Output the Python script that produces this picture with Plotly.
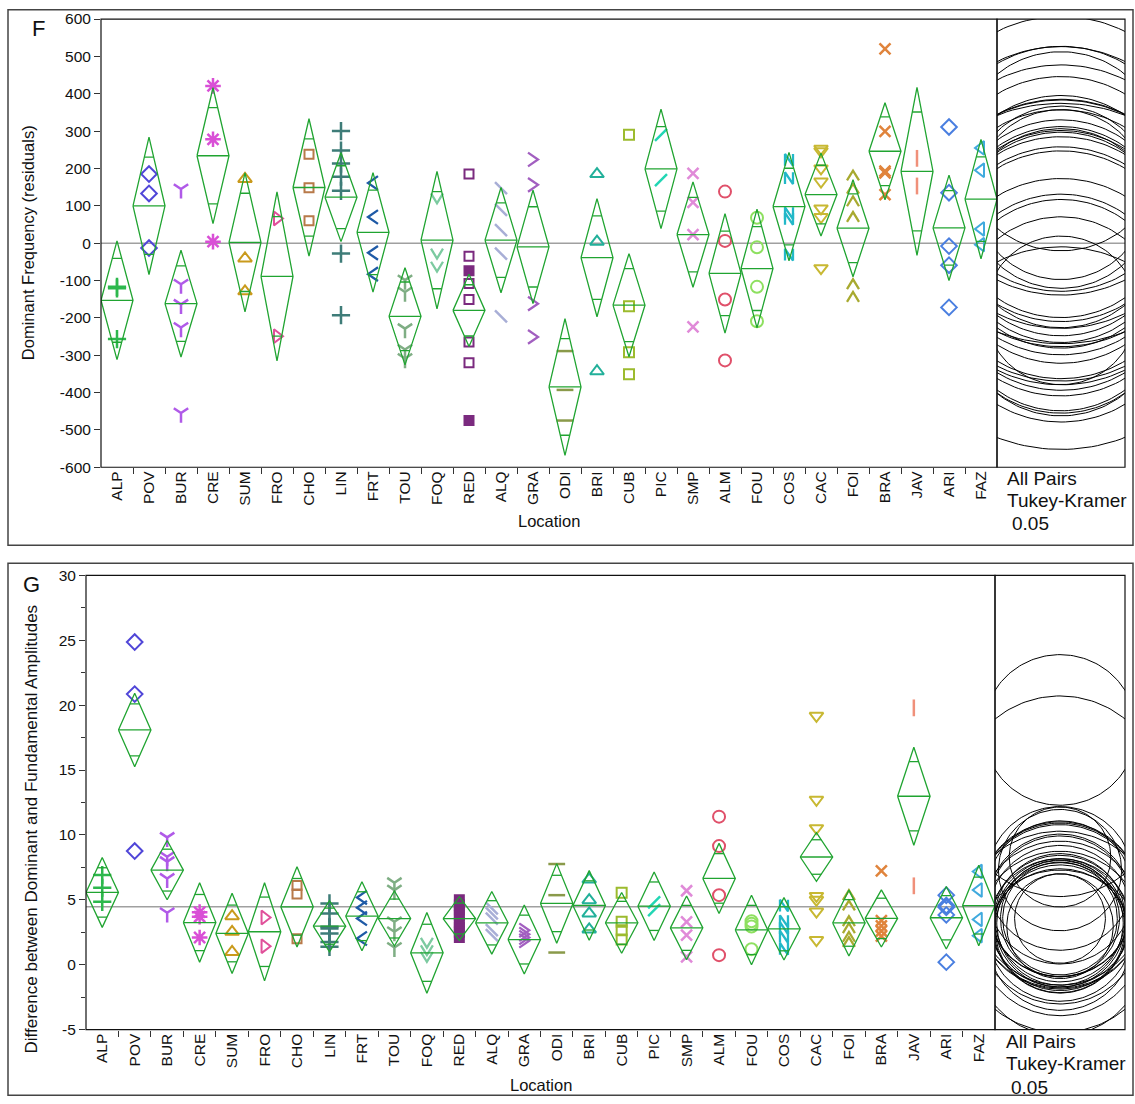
import numpy as np
import plotly.graph_objects as go

W, H = 1135, 1104

locations = ["ALP", "POV", "BUR", "CRE", "SUM", "FRO", "CHO", "LIN", "FRT", "TOU",
             "FOQ", "RED", "ALQ", "GRA", "ODI", "BRI", "CUB", "PIC", "SMP", "ALM",
             "FOU", "COS", "CAC", "FOI", "BRA", "JAV", "ARI", "FAZ"]

# marker per location ("glyph:" entries are drawn as small line glyphs)
marker_symbols = ["cross-thin-open", "diamond-open", "y-down-open", "asterisk-open",
                  "triangle-up-open", "triangle-right-open", "square-open", "cross-thin-open",
                  "glyph:chev-left", "y-down-open", "glyph:chev-down", "square-open",
                  "line-nw-open", "glyph:chev-right", "line-ew-open", "triangle-up-open",
                  "square-open", "line-ne-open", "x-thin-open", "circle-open", "circle-open",
                  "glyph:letter-n", "triangle-down-open", "glyph:chev-up", "x-thin-open",
                  "line-ns-open", "diamond-open", "triangle-left-open"]

marker_colors = ["#2db84d", "#5046d8", "#b05ae8", "#d94fd6", "#c99a1c", "#e0509a", "#b87a4a",
                 "#3e7c78", "#1f5aa6", "#7fae84", "#7ccaa0", "#7b2a7f", "#a8aed6", "#a25fc0",
                 "#8a9a4a", "#22b09a", "#9cbb2e", "#22d6b4", "#e08ad8", "#e0506a", "#8ee060",
                 "#22b8c8", "#c8b832", "#a8aa30", "#e0843c", "#f0907a", "#4a7fe0", "#40aade"]

# ---- Panel F: dominant frequency residuals ----
f_means = [-153, 100, -162, 234, 2, -89, 149, 123, 29, -196, 8, -180, 8, -10, -385, -39,
           -166, 199, 23, -81, -68, 98, 130, 40, 246, 192, 41, 118]
f_ci = [159, 184, 143, 182, 186, 226, 184, 119, 160, 130, 184, 97, 141, 152, 183, 158,
        138, 160, 141, 160, 159, 145, 111, 130, 130, 225, 141, 160]
f_values = [
    [-117, -121, -257],
    [185, 133, -13],
    [145, -110, -164, -226, -455],
    [421, 278, 4],
    [172, -41, -129],
    [66, -249],
    [238, 148, 60],
    [300, 248, 213, 178, 140, -28, -193],
    [161, 70, -26, -83],
    [-99, -131, -229, -285, -309],
    [120, -28, -63],
    [185, -35, -74, -108, -151, -265, -320, -475],
    [147, 89, 35, -28, -196],
    [224, 156, -162, -251],
    [-289, -393, -475],
    [185, 4, -343],
    [290, -169, -292, -351],
    [290, 169],
    [187, 109, 23, -224],
    [138, 6, -151, -314],
    [68, -11, -117, -209],
    [223, 174, 80, 65, -31],
    [253, 246, 200, 165, 93, 70, -67],
    [181, 146, 112, 70, -110, -144],
    [520, 299, 193, 188, 130],
    [227, 153],
    [311, 135, -8, -59, -172],
    [255, 195, 38, -4],
]
f_red_filled = [False, False, True, False, False, False, False, True]
f_grand = 0.0
f_yticks = list(range(-600, 601, 100))

# ---- Panel G: dominant minus fundamental amplitude ----
g_means = [5.57, 18.09, 7.29, 3.25, 2.41, 2.54, 4.46, 2.97, 3.74, 3.56, 0.92, 3.56, 3.23,
           1.94, 4.72, 4.57, 3.23, 4.51, 2.84, 6.65, 2.68, 2.77, 8.30, 3.22, 3.57, 12.98,
           3.62, 4.56]
g_ci = [2.69, 2.83, 2.28, 3.06, 3.09, 3.78, 3.09, 1.97, 2.66, 2.12, 3.11, 1.68, 2.41, 2.66,
        3.07, 2.68, 2.34, 2.64, 2.45, 2.70, 2.68, 2.40, 1.88, 2.54, 2.20, 3.77, 2.41, 3.10]
g_values = [
    [6.91, 5.93, 4.85],
    [24.86, 20.85, 8.76],
    [9.81, 8.32, 7.94, 6.65, 4.0],
    [4.05, 3.7, 2.1],
    [3.74, 2.54, 0.99],
    [3.64, 1.43],
    [6.1, 5.45, 2.0],
    [4.72, 3.95, 2.92, 2.8, 2.41, 1.76, 1.38],
    [5.18, 4.39, 3.56, 2.02],
    [6.32, 5.75, 3.31, 2.54, 1.33],
    [1.69, 1.12, 0.6],
    [5.0, 4.6, 4.2, 3.8, 3.3, 2.9, 2.5, 2.1],
    [4.34, 3.95, 3.56, 2.66, 2.28],
    [2.66, 2.35, 2.1, 1.85],
    [7.76, 5.36, 0.94],
    [6.57, 4.97, 3.95, 2.72],
    [5.54, 3.31, 2.66, 1.94],
    [4.8, 4.2],
    [5.7, 3.31, 2.28, 0.61],
    [11.41, 9.14, 5.36, 0.74],
    [3.35, 3.15, 2.95, 1.2],
    [4.56, 3.35, 2.82, 2.15, 1.22],
    [19.18, 12.71, 10.52, 5.3, 5.0, 4.1, 1.9],
    [5.36, 4.56, 3.35, 2.82, 2.15, 1.75],
    [7.23, 3.4, 3.0, 2.6, 2.2],
    [19.79, 6.08],
    [5.36, 4.56, 4.43, 3.84, 0.2],
    [7.18, 5.76, 3.49, 2.24],
]
g_red_filled = [True] * 8
g_grand = 4.47
g_yticks = list(range(-5, 31, 5))
g_yminor = [v + 2.5 for v in range(-5, 30, 5)]

CIRCLE_FACTOR = 2.05     # Tukey-Kramer circle radius relative to the diamond half-height
DIAMOND_GREEN = "#20a431"
FONT = "Liberation Sans, Arial, sans-serif"

# glyph outlines in pixel offsets (x right, y up)
GLYPHS = {
    "chev-left": [(5, 7), (-5, 0), (5, -7)],
    "chev-right": [(-5, 7), (5, 0), (-5, -7)],
    "chev-down": [(-6, 5), (0, -5), (6, 5)],
    "chev-up": [(-6, -5), (0, 5), (6, -5)],
    "letter-n": [(-4, -6), (-4, 6), (4, -6), (4, 6)],
}

# marker size / outline width by symbol family
MARKER_SIZE = {"square-open": 10, "cross-thin-open": 13, "asterisk-open": 13,
               "x-thin-open": 11, "y-down-open": 12, "line-nw-open": 12,
               "line-ne-open": 12, "line-ew-open": 12, "line-ns-open": 12}
THICK = ("cross-thin-open", "x-thin-open", "line-nw-open", "line-ne-open",
         "line-ew-open", "line-ns-open", "asterisk-open", "y-down-open")

# page geometry in pixels (x from left, y from top)
F_MAIN = (101, 997)
F_CIRC = (997, 1125)
F_Y = (10.2, 465.4)
F_BOX = (8, 0.8, 1133, 544.7)
G_MAIN = (86, 995)
G_CIRC = (995, 1125)
G_Y = (575.2, 1036.6)
G_BOX = (8, 563, 1133, 1103.3)


def px(x):
    return x / W


def py(y):
    return 1 - y / H


def add_panel(fig, values, means, ci, grand, red_filled, xa, ya, xc, circle_half,
              x_ppu, y_ppu):
    n = len(locations)
    # overall mean reference line (main area and circle area)
    fig.add_trace(go.Scatter(x=[-0.5, n - 0.5], y=[grand, grand], mode="lines",
                             line=dict(color="#a0a0a0", width=1.5), xaxis=xa, yaxis=ya,
                             hoverinfo="skip", showlegend=False))
    fig.add_trace(go.Scatter(x=[-circle_half, circle_half], y=[grand, grand], mode="lines",
                             line=dict(color="#a0a0a0", width=1.5), xaxis=xc, yaxis=ya,
                             hoverinfo="skip", showlegend=False))
    # individual observations
    for i, loc in enumerate(locations):
        vals = values[i]
        sym = marker_symbols[i]
        col = marker_colors[i]
        if sym.startswith("glyph:"):
            outline = GLYPHS[sym[6:]]
            gx, gy = [], []
            for v in vals:
                gx += [i + ox / x_ppu for ox, oy in outline] + [None]
                gy += [v + oy / y_ppu for ox, oy in outline] + [None]
            fig.add_trace(go.Scatter(x=gx, y=gy, mode="lines",
                                     line=dict(color=col, width=2.3),
                                     xaxis=xa, yaxis=ya, hoverinfo="skip", showlegend=False))
            continue
        size = MARKER_SIZE.get(sym, 12)
        lw = 2.5 if sym in THICK else 2
        syms = sym
        if loc == "RED":
            syms = ["square" if f else "square-open" for f in red_filled]
            size = 9
        elif loc == "CHO":
            size = 9
        fig.add_trace(go.Scatter(
            x=[i] * len(vals), y=vals, mode="markers",
            marker=dict(symbol=syms, size=size, color=col, line=dict(color=col, width=lw)),
            xaxis=xa, yaxis=ya, hoverinfo="skip", showlegend=False, cliponaxis=False))
    # means diamonds with overlap marks
    dx, dy = [], []
    half = 0.5
    hw = half * (1 - 1 / np.sqrt(2))
    for i in range(n):
        m, c = means[i], ci[i]
        dx += [i - half, i, i + half, i, i - half, None]
        dy += [m, m + c, m, m - c, m, None]
        dx += [i - half, i + half, None]
        dy += [m, m, None]
        h = c / np.sqrt(2)
        dx += [i - hw, i + hw, None, i - hw, i + hw, None]
        dy += [m + h, m + h, None, m - h, m - h, None]
    fig.add_trace(go.Scatter(x=dx, y=dy, mode="lines",
                             line=dict(color=DIAMOND_GREEN, width=1.3),
                             xaxis=xa, yaxis=ya, hoverinfo="skip", showlegend=False))
    # comparison circles
    t = np.linspace(0, 2 * np.pi, 181)
    cx, cy = [], []
    for i in range(n):
        r = CIRCLE_FACTOR * ci[i]
        cx += list(r * np.cos(t)) + [None]
        cy += list(means[i] + r * np.sin(t)) + [None]
    fig.add_trace(go.Scatter(x=cx, y=cy, mode="lines", line=dict(color="black", width=1),
                             xaxis=xc, yaxis=ya, hoverinfo="skip", showlegend=False))


fig = go.Figure()

f_yppu = (F_Y[1] - F_Y[0]) / 1200.0
g_yppu = (G_Y[1] - G_Y[0]) / 35.0
f_xppu = (F_MAIN[1] - F_MAIN[0]) / len(locations)
g_xppu = (G_MAIN[1] - G_MAIN[0]) / len(locations)
f_half = ((F_CIRC[1] - F_CIRC[0]) / 2) / f_yppu
g_half = ((G_CIRC[1] - G_CIRC[0]) / 2) / g_yppu

add_panel(fig, f_values, f_means, f_ci, f_grand, f_red_filled, "x", "y", "x2", f_half,
          f_xppu, f_yppu)
add_panel(fig, g_values, g_means, g_ci, g_grand, g_red_filled, "x3", "y2", "x4", g_half,
          g_xppu, g_yppu)

tickfont = dict(family=FONT, size=15.5, color="#111")
boundaries = [i + 0.5 for i in range(len(locations) - 1)]

main_x = dict(range=[-0.5, len(locations) - 0.5], tickmode="array",
              tickvals=list(range(len(locations))), ticktext=locations, tickangle=-90,
              ticks="", showgrid=False, zeroline=False, showline=False, tickfont=tickfont,
              minor=dict(tickmode="array", tickvals=boundaries, ticks="outside", ticklen=6,
                         tickcolor="#333", tickwidth=1))
circ_x = dict(showgrid=False, zeroline=False, showticklabels=False, ticks="", showline=False)

fig.update_layout(
    width=W, height=H, autosize=False, margin=dict(l=0, r=0, t=0, b=0),
    paper_bgcolor="white", plot_bgcolor="rgba(0,0,0,0)",
    font=dict(family=FONT, color="#111"),
    xaxis=dict(main_x, domain=[px(F_MAIN[0]), px(F_MAIN[1])], anchor="y"),
    xaxis2=dict(circ_x, domain=[px(F_CIRC[0]), px(F_CIRC[1])], anchor="y",
                range=[-f_half, f_half]),
    xaxis3=dict(main_x, domain=[px(G_MAIN[0]), px(G_MAIN[1])], anchor="y2"),
    xaxis4=dict(circ_x, domain=[px(G_CIRC[0]), px(G_CIRC[1])], anchor="y2",
                range=[-g_half, g_half]),
    yaxis=dict(domain=[py(F_Y[1]), py(F_Y[0])], anchor="x", range=[-600, 600],
               tickmode="array", tickvals=f_yticks, ticktext=[str(v) for v in f_yticks],
               ticks="outside", ticklen=6, tickcolor="#333", showgrid=False,
               zeroline=False, showline=False, tickfont=tickfont),
    yaxis2=dict(domain=[py(G_Y[1]), py(G_Y[0])], anchor="x3", range=[-5, 30],
                tickmode="array", tickvals=g_yticks, ticktext=[str(v) for v in g_yticks],
                ticks="outside", ticklen=6, tickcolor="#333", showgrid=False,
                zeroline=False, showline=False, tickfont=tickfont,
                minor=dict(tickmode="array", tickvals=g_yminor, ticks="outside",
                           ticklen=4, tickcolor="#333")),
)


def rect(x0, y0, x1, y1, color="black", width=1):
    return dict(type="rect", xref="paper", yref="paper", x0=px(x0), x1=px(x1),
                y0=py(y1), y1=py(y0), line=dict(color=color, width=width), layer="above")


shapes = [
    rect(*F_BOX, color="#444", width=1.5),
    rect(*G_BOX, color="#444", width=1.5),
    rect(F_MAIN[0], F_Y[0], F_MAIN[1], F_Y[1], "#111", 1.2),
    rect(F_CIRC[0], F_Y[0], F_CIRC[1], F_Y[1], "#111", 1.2),
    rect(G_MAIN[0], G_Y[0], G_MAIN[1], G_Y[1], "#111", 1.2),
    rect(G_CIRC[0], G_Y[0], G_CIRC[1], G_Y[1], "#111", 1.2),
]
fig.update_layout(shapes=shapes)


def label(text, x, y, size=15, angle=0, xanchor="center", yanchor="middle"):
    return dict(text=text, x=px(x), y=py(y), xref="paper", yref="paper", showarrow=False,
                textangle=angle, xanchor=xanchor, yanchor=yanchor,
                font=dict(family=FONT, size=size, color="#111"))


annotations = [
    label("F", 38, 19.3, size=22),
    label("G", 31, 584.3, size=22),
    label("Dominant Frequency (residuals)", 28, 237.8, size=16.5, angle=-90),
    label("Difference between Dominant and Fundamental Amplitudes", 31, 833.3, size=17,
          angle=-90),
    label("Location", (F_MAIN[0] + F_MAIN[1]) / 2, 520.3, size=16.5),
    label("Location", (G_MAIN[0] + G_MAIN[1]) / 2, 1092.5, size=16.5),
    label("All Pairs", 1005, 476.6, size=19, xanchor="left"),
    label("Tukey-Kramer", 1005, 499, size=19, xanchor="left"),
    label("0.05", 1010, 522.4, size=19, xanchor="left"),
    label("All Pairs", 1004, 1048.8, size=19, xanchor="left"),
    label("Tukey-Kramer", 1004, 1071.1, size=19, xanchor="left"),
    label("0.05", 1009, 1095.3, size=19, xanchor="left"),
]
fig.update_layout(annotations=annotations)

fig.write_html("out.html")
